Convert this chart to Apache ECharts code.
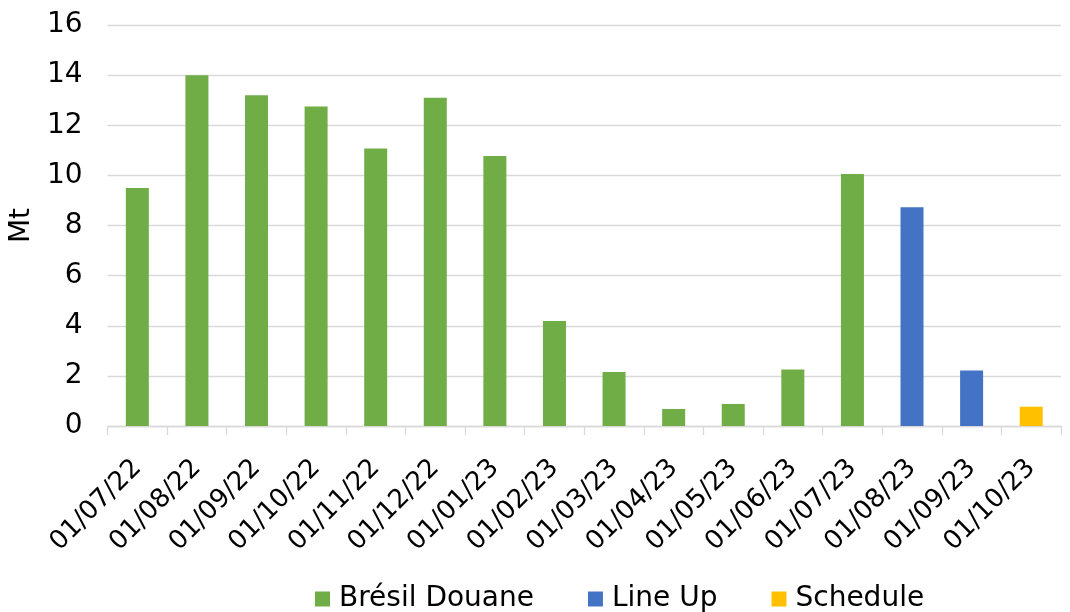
<!DOCTYPE html>
<html>
<head>
<meta charset="utf-8">
<script src="https://cdn.jsdelivr.net/npm/echarts@6/dist/echarts.min.js"></script>
<style>
html,body{margin:0;padding:0;background:#fff;}
#c{width:1070px;height:612px;}
</style>
</head>
<body>
<div id="c"></div>
<script>
const categories = ['01/07/22','01/08/22','01/09/22','01/10/22','01/11/22','01/12/22','01/01/23','01/02/23','01/03/23','01/04/23','01/05/23','01/06/23','01/07/23','01/08/23','01/09/23','01/10/23'];
const bresilDouane = [9.5, 14.0, 13.2, 12.75, 11.07, 13.1, 10.77, 4.19, 2.15, 0.68, 0.88, 2.25, 10.05, '-', '-', '-'];
const lineUp = ['-', '-', '-', '-', '-', '-', '-', '-', '-', '-', '-', '-', '-', 8.73, 2.21, '-'];
const schedule = ['-', '-', '-', '-', '-', '-', '-', '-', '-', '-', '-', '-', '-', '-', '-', 0.77];
const yTicks = {min: 0, max: 16, interval: 2};

const FONT = 'DejaVu Sans';
const chart = echarts.init(document.getElementById('c'), null, {renderer: 'canvas'});
chart.setOption({
  animation: false,
  backgroundColor: '#ffffff',
  textStyle: {fontFamily: FONT, color: '#000'},
  grid: {left: 105, right: 9, top: 25, bottom: 186, containLabel: false},
  legend: {
    left: 310, top: 580,
    icon: 'rect', itemWidth: 15, itemHeight: 15, itemGap: 54,
    textStyle: {fontFamily: FONT, fontSize: 28, color: '#000', padding: [0,0,0,4]},
    data: ['Brésil Douane', 'Line Up', 'Schedule']
  },
  xAxis: {
    type: 'category',
    data: categories,
    axisLine: {lineStyle: {color: '#d9d9d9', width: 1.3}},
    axisTick: {show: true, length: 9, lineStyle: {color: '#d9d9d9', width: 1.3}},
    axisLabel: {rotate: 45, margin: 38, fontFamily: FONT, fontSize: 26, color: '#000', interval: 0}
  },
  yAxis: {
    type: 'value',
    min: yTicks.min, max: yTicks.max, interval: yTicks.interval,
    name: 'Mt', nameLocation: 'middle', nameGap: 67, nameRotate: 90,
    nameTextStyle: {fontFamily: FONT, fontSize: 28, color: '#000'},
    axisLine: {show: false},
    axisTick: {show: false},
    axisLabel: {fontFamily: FONT, fontSize: 28, color: '#000', margin: 25},
    splitLine: {lineStyle: {color: '#d9d9d9', width: 1.3}}
  },
  series: [
    {name: 'Brésil Douane', type: 'bar', stack: 's', data: bresilDouane, barWidth: 23, itemStyle: {color: '#70AD47'}},
    {name: 'Line Up', type: 'bar', stack: 's', data: lineUp, barWidth: 23, itemStyle: {color: '#4472C4'}},
    {name: 'Schedule', type: 'bar', stack: 's', data: schedule, barWidth: 23, itemStyle: {color: '#FFC000'}}
  ]
});
</script>
</body>
</html>
